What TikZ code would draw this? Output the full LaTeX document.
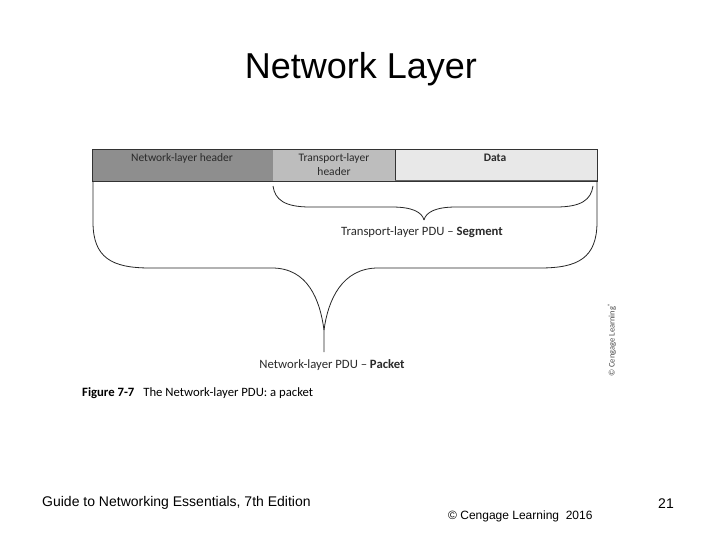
\documentclass[tikz,border=0pt]{standalone}
\usepackage{fontspec}
\setmainfont{Liberation Sans}
\newfontfamily\figfont{Carlito}
\definecolor{darkbox}{HTML}{8E8E8E}
\definecolor{midbox}{HTML}{BDBDBD}
\definecolor{lightbox}{HTML}{E8E8E8}
\definecolor{figtext}{HTML}{2A2A2A}
\begin{document}
\begin{tikzpicture}[x=1pt,y=-1pt,
  figlabel/.style={font=\figfont\fontsize{11.5}{13}\selectfont, text=figtext, inner sep=0pt},
  pdulabel/.style={font=\figfont\fontsize{12.7}{14}\selectfont, text=figtext, inner sep=0pt},
  brace/.style={draw=black!85, line width=0.8pt},
  foot/.style={font=\fontsize{14}{16}\selectfont, inner sep=0pt}]
\useasboundingbox (0,0) rectangle (720,540);
\fill[white] (0,0) rectangle (720,540);
% title
\node[font=\fontsize{36}{40}\selectfont, inner sep=0pt] (title) at (361,69) {Network Layer};
% boxes
\fill[darkbox] (92,149) rectangle (273,181);
\fill[lightbox] (395,149) rectangle (597,180);
\fill[midbox] (273,149) rectangle (395,181);
\draw[black!80, line width=0.7pt] (92,149) rectangle (597,181);
\draw[black!80, line width=0.7pt] (273,181) -- (395,181) -- (395,149);
\draw[black!60, line width=0.5pt] (395,180) -- (597,180);
\node[figlabel] (nlh) at (182,158) {Network-layer header};
\node[figlabel, align=center, font=\figfont\fontsize{11.5}{14}\selectfont] (tlh) at (334,165) {Transport-layer\\header};
\node[figlabel, font=\figfont\bfseries\fontsize{11.5}{13}\selectfont] (data) at (495,158) {Data};
% small brace
\draw[brace] (273,186) .. controls (275,200) and (285,207) .. (310,207) -- (392,207)
  .. controls (412,207) and (422,212) .. (424,220);
\draw[brace] (593,186) .. controls (591,200) and (581,207) .. (556,207) -- (456,207)
  .. controls (436,207) and (426,212) .. (424,220);
\node[pdulabel] (seg) at (422,232) {Transport-layer PDU – \textbf{Segment}};
% big brace
\draw[brace] (93,181) -- (93,222) .. controls (93,258) and (112,268) .. (150,268) -- (272,268)
  .. controls (308,268) and (320,300) .. (324,330) -- (324,352);
\draw[brace] (597,181) -- (597,222) .. controls (597,258) and (578,268) .. (540,268) -- (378,268)
  .. controls (342,268) and (328,300) .. (324,330);
\node[pdulabel] (pkt) at (332,365) {Network-layer PDU – \textbf{Packet}};
% caption
\node[pdulabel, anchor=base west, text=black] (cap) at (82,396) {\textbf{Figure 7-7}\hspace{9pt}The Network-layer PDU: a packet};
% rotated credit
\node[figlabel, rotate=90, font=\figfont\fontsize{8.5}{9}\selectfont, text=black!70] (cred) at (612,340) {\copyright\ Cengage Learning\textsuperscript{\textregistered}};
% footer
\node[foot, anchor=west] (foot1) at (42,503) {Guide to Networking Essentials, 7th Edition};
\node[foot, font=\fontsize{12}{14}\selectfont, anchor=west] (foot2) at (448,516) {\copyright\ Cengage Learning~ 2016};
\node[foot] (page) at (666,504) {21};
\end{tikzpicture}
\end{document}
